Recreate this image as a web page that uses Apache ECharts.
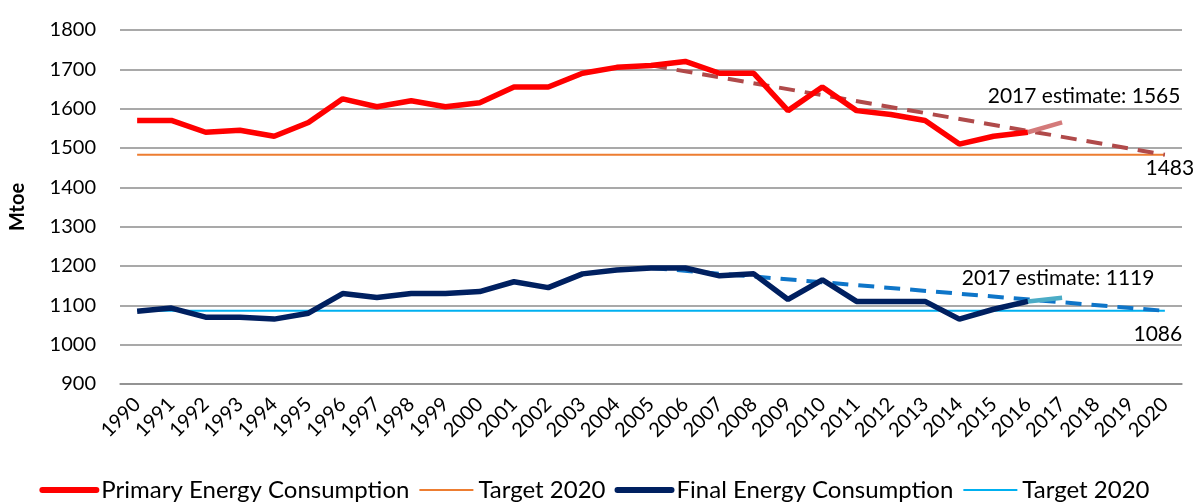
<!DOCTYPE html>
<html>
<head>
<meta charset="utf-8">
<script src="https://cdn.jsdelivr.net/npm/echarts@6/dist/echarts.min.js"></script>
<style>
  html, body { margin: 0; padding: 0; background: #fff; }
  #main { width: 1195px; height: 502px; }
</style>
</head>
<body>
<div id="main"></div>
<script>
// years on the category axis
var years = [];
for (var y = 1990; y <= 2020; y++) years.push(String(y));

// Primary energy consumption 1990-2016 (Mtoe)
var primary = [1570, 1570, 1540, 1545, 1530, 1565, 1625, 1605, 1620, 1605, 1615, 1655, 1655, 1690, 1705, 1710, 1720, 1690, 1690, 1595, 1655, 1595, 1585, 1570, 1510, 1530, 1540];
// Final energy consumption 1990-2016 (Mtoe)
var finalEnergy = [1085, 1093, 1070, 1070, 1065, 1080, 1130, 1120, 1130, 1130, 1135, 1160, 1145, 1180, 1190, 1195, 1195, 1175, 1180, 1115, 1165, 1110, 1110, 1110, 1065, 1090, 1110];

var primaryTarget = 1483;
var finalTarget = 1086;
var primaryEstimate = 1565;   // 2017
var finalEstimate = 1119;     // 2017
var trendStartYear = '2005';
var primaryTrendStart = 1710;
var finalTrendStart = 1195;

var FONT = 'Lato';

function fill(v) { return years.map(function () { return v; }); }
function blank() { return years.map(function () { return null; }); }

var primaryTrend = blank();
primaryTrend[years.indexOf(trendStartYear)] = primaryTrendStart;
primaryTrend[years.indexOf('2020')] = {
  value: primaryTarget,
  label: { show: true, position: 'bottom', offset: [5, -2], formatter: '{c}' }
};
var finalTrend = blank();
finalTrend[years.indexOf(trendStartYear)] = finalTrendStart;
finalTrend[years.indexOf('2020')] = {
  value: finalTarget,
  label: { show: true, position: 'bottom', offset: [-7, 7], formatter: '{c}' }
};

var primaryEst = blank();
primaryEst[years.indexOf('2016')] = primary[primary.length - 1];
primaryEst[years.indexOf('2017')] = {
  value: primaryEstimate,
  label: { show: true, position: 'top', offset: [22, -10], formatter: '2017 estimate: {c}' }
};
var finalEst = blank();
finalEst[years.indexOf('2016')] = finalEnergy[finalEnergy.length - 1];
finalEst[years.indexOf('2017')] = {
  value: finalEstimate,
  label: { show: true, position: 'top', offset: [-4, -4], formatter: '2017 estimate: {c}' }
};

var labelStyle = { color: '#000', fontFamily: FONT, fontSize: 21 };
// invisible point markers so that the end labels can be drawn
var hiddenPoint = { symbol: 'circle', symbolSize: 1, showSymbol: true, itemStyle: { color: 'rgba(0,0,0,0)' } };

var chart = echarts.init(document.getElementById('main'));
chart.setOption({
  animation: false,
  textStyle: { fontFamily: FONT },
  grid: { left: 118, right: 13, top: 30, bottom: 118 },
  legend: {
    bottom: 0,
    left: 'center',
    padding: 0,
    itemWidth: 54,
    itemHeight: 14,
    itemGap: 9,
    itemStyle: { opacity: 0 },
    textStyle: { fontFamily: FONT, fontSize: 24, color: '#000' },
    data: [
      { name: 'Primary Energy Consumption', lineStyle: { width: 6, cap: 'round' } },
      { name: 'Target 2020', lineStyle: { width: 2 } },
      { name: 'Final Energy Consumption', lineStyle: { width: 6, cap: 'round' } },
      { name: 'Target 2020 ', lineStyle: { width: 2 } }
    ]
  },
  xAxis: {
    type: 'category',
    data: years,
    boundaryGap: true,
    axisLine: { lineStyle: { color: '#8c8c8c', width: 1.5 } },
    axisTick: { alignWithLabel: true, length: 6, lineStyle: { color: '#8c8c8c', width: 1.5 } },
    axisLabel: { interval: 0, rotate: 45, margin: 17, color: '#000', fontFamily: FONT, fontSize: 20 }
  },
  yAxis: {
    type: 'value',
    min: 900,
    max: 1800,
    interval: 100,
    name: 'Mtoe',
    nameLocation: 'middle',
    nameGap: 92,
    nameTextStyle: { fontFamily: FONT, fontSize: 20, fontWeight: 'bold', color: '#000' },
    axisLine: { show: false },
    axisTick: { show: false },
    axisLabel: { margin: 24, color: '#000', fontFamily: FONT, fontSize: 20, formatter: function (v) { return String(v); } },
    splitLine: { lineStyle: { color: '#8c8c8c', width: 1.5 } }
  },
  series: [
    {
      name: 'Target 2020',
      type: 'line',
      data: fill(primaryTarget),
      symbol: 'none',
      z: 1,
      lineStyle: { color: '#ed7d31', width: 2 },
      itemStyle: { color: '#ed7d31' }
    },
    {
      name: 'Target 2020 ',
      type: 'line',
      data: fill(finalTarget),
      symbol: 'none',
      z: 1,
      lineStyle: { color: '#00b0f0', width: 2 },
      itemStyle: { color: '#00b0f0' }
    },
    Object.assign({
      name: 'Primary trend',
      type: 'line',
      data: primaryTrend,
      connectNulls: true,
      z: 2,
      label: labelStyle,
      lineStyle: { color: '#b04a4a', width: 4, type: [16, 10] }
    }, hiddenPoint),
    Object.assign({
      name: 'Final trend',
      type: 'line',
      data: finalTrend,
      connectNulls: true,
      z: 2,
      label: labelStyle,
      lineStyle: { color: '#0e75c8', width: 4, type: [16, 10] }
    }, hiddenPoint),
    Object.assign({
      name: 'Primary estimate',
      type: 'line',
      data: primaryEst,
      z: 3,
      label: labelStyle,
      lineStyle: { color: '#d47a7a', width: 4.5 }
    }, hiddenPoint),
    Object.assign({
      name: 'Final estimate',
      type: 'line',
      data: finalEst,
      z: 3,
      label: labelStyle,
      lineStyle: { color: '#4bacc6', width: 4.5 }
    }, hiddenPoint),
    {
      name: 'Primary Energy Consumption',
      type: 'line',
      data: primary,
      symbol: 'none',
      z: 4,
      lineStyle: { color: '#ff0000', width: 5.5 },
      itemStyle: { color: '#ff0000' }
    },
    {
      name: 'Final Energy Consumption',
      type: 'line',
      data: finalEnergy,
      symbol: 'none',
      z: 4,
      lineStyle: { color: '#002060', width: 5.5 },
      itemStyle: { color: '#002060' }
    }
  ]
});
</script>
</body>
</html>
